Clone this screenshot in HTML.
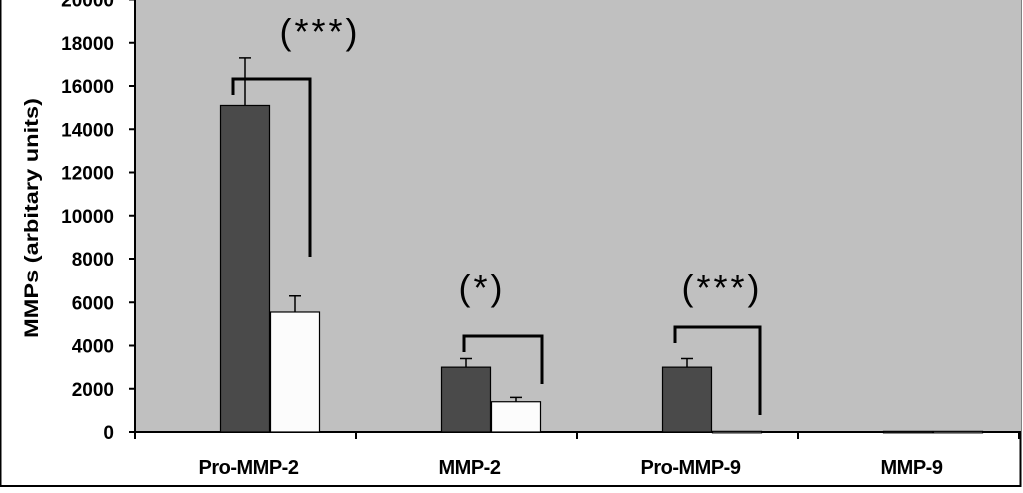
<!DOCTYPE html>
<html><head><meta charset="utf-8"><style>
body{margin:0;background:#fff;}
svg text{font-family:"Liberation Sans",Arial,sans-serif;}
</style></head><body>
<svg width="1023" height="488" viewBox="0 0 1023 488">
<rect x="0.5" y="-2" width="1020" height="488" fill="#fff" stroke="#000" stroke-width="2"/>
<rect x="135" y="0" width="886" height="432" fill="#c0c0c0"/>
<g id="g"></g>
<text transform="translate(38,218) rotate(-90)" text-anchor="middle" font-size="19" font-weight="bold" textLength="240" lengthAdjust="spacingAndGlyphs">MMPs (arbitary units)</text>
</svg>
<script>
const categories=["Pro-MMP-2","MMP-2","Pro-MMP-9","MMP-9"];
const series1=[15100,3000,3000,30];
const series1Err=[17300,3400,3400,30];
const series2=[5550,1400,30,30];
const series2Err=[6300,1600,30,30];
const yTicks=[0,2000,4000,6000,8000,10000,12000,14000,16000,18000,20000];
const NS="http://www.w3.org/2000/svg";
const g=document.getElementById('g');
const y0=432,pxPer=346/16000,x0=135,cw=221,bw=49;
const Y=v=>y0-v*pxPer;
const X=i=>x0+i*cw;
function mk(t,a){const e=document.createElementNS(NS,t);for(const k in a)e.setAttribute(k,a[k]);g.appendChild(e);return e;}
let ax=mk('line',{x1:135,y1:0,x2:135,y2:432,stroke:'#000','stroke-width':2});


let xa=mk('line',{x1:135,y1:432,x2:1021,y2:432,stroke:'#000','stroke-width':2});


yTicks.forEach(v=>{
 const t=mk('line',{x1:129,x2:135,y1:Y(v),y2:Y(v),stroke:'#000','stroke-width':2});
 
 
 const l=mk('text',{x:114,y:Y(v)+7,'text-anchor':'end','font-size':19,'font-weight':'bold'});
 l.textContent=v;
 
 
});
for(let i=0;i<=4;i++){
 const t=mk('line',{x1:X(i),x2:X(i),y1:432,y2:439,stroke:'#000','stroke-width':2});
 
 
}
categories.forEach((c,i)=>{
 const cx=X(i)+cw/2;
 const l=mk('text',{x:cx+3,y:474,'text-anchor':'middle','font-size':20,'font-weight':'bold','letter-spacing':'-0.5'});
 l.textContent=c;
 
 
 [[series1,series1Err,'#4a4a4a',cx-25],[series2,series2Err,'#fcfcfc',cx+25]].forEach(([s,e,col,bx],k)=>{
  const b=mk('rect',{x:bx,y:Y(s[i]),width:bw,height:Math.max(y0-Y(s[i]),1.5),fill:col,stroke:'#000','stroke-width':1.2});
  
  
  if(e[i]>s[i]+50){
   const m=bx+bw/2;
   const el=mk('path',{d:`M${m},${Y(s[i])}V${Y(e[i])}M${m-6},${Y(e[i])}H${m+6}`,stroke:'#000','stroke-width':1.5,fill:'none'});
   
   
  }
 });
});
const brackets=[[233,310,79,95,257,"(***)",320,44],[464,542,336,352,384,"(*)",482,300],[675,760,327,343,415,"(***)",722,300]];
brackets.forEach(b=>{
 const p=mk('path',{d:`M${b[0]},${b[3]}V${b[2]}H${b[1]}V${b[4]}`,stroke:'#000','stroke-width':3,fill:'none'});
 
 
 const t=mk('text',{x:b[6],y:b[7],'text-anchor':'middle','font-size':36,'letter-spacing':'3'});
 t.textContent=b[5];
 
 
});
</script>
</body></html>
